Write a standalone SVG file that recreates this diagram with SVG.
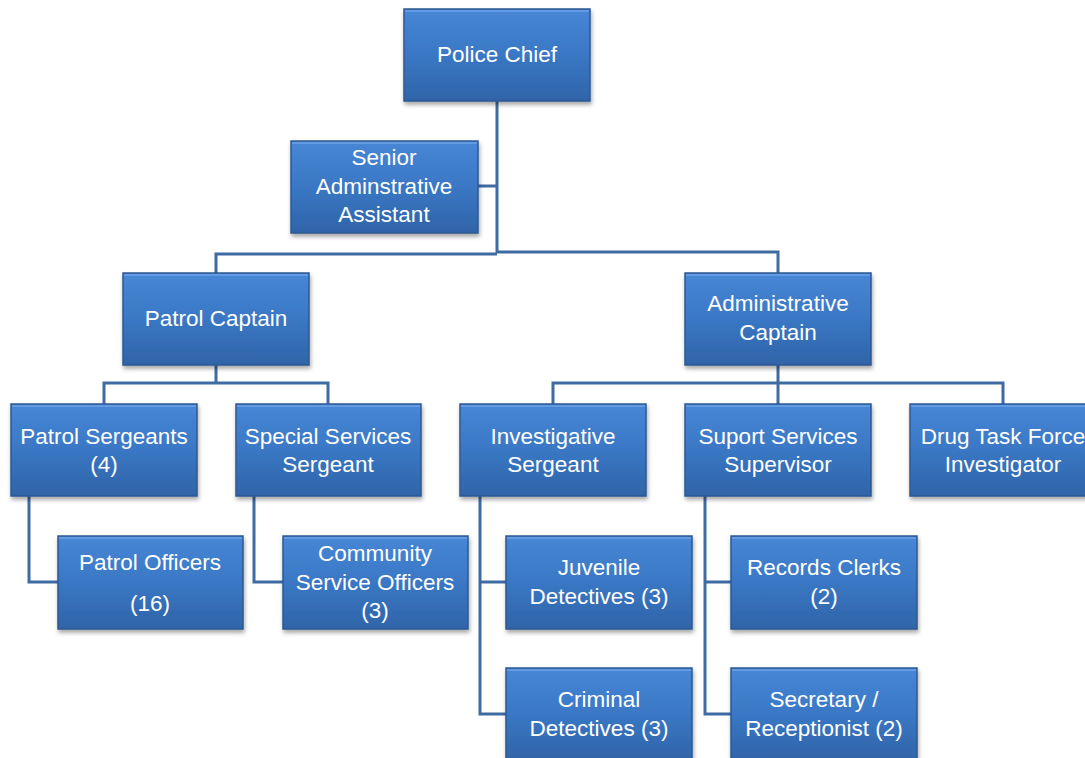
<svg xmlns="http://www.w3.org/2000/svg" width="1085" height="758" viewBox="0 0 1085 758">
<defs>
<linearGradient id="g" x1="0" y1="0" x2="0" y2="1">
<stop offset="0" stop-color="#4787d6"/>
<stop offset="0.5" stop-color="#3a77c4"/>
<stop offset="1" stop-color="#2f64a8"/>
</linearGradient>
<filter id="sh" x="-10%" y="-10%" width="125%" height="130%">
<feDropShadow dx="1" dy="3" stdDeviation="2" flood-color="#000" flood-opacity="0.35"/>
</filter>
</defs>
<style>
.box{fill:url(#g);stroke:#2d5a92;stroke-width:1.5;filter:url(#sh)}
.hl{fill:none;stroke:#6fa3e6;stroke-width:2;stroke-opacity:0.7}
.t{fill:#fff;font-family:"Liberation Sans",Arial,sans-serif;font-size:22.5px;text-anchor:middle}
.c{fill:none;stroke:#3f6ba3;stroke-width:3}
</style>
<g id="connectors">
<path class="c" d="M497 101V253M478 186H497"/>
<path class="c" d="M216 273V254H497M497 252H778V273"/>
<path class="c" d="M216 365V383H104V404M216 383H328V404"/>
<path class="c" d="M778 365V404M553 404V383H1003V404"/>
<path class="c" d="M29 496V582H58"/>
<path class="c" d="M254 496V582H283"/>
<path class="c" d="M480 496V714H506M480 582H506"/>
<path class="c" d="M705 496V714H731M705 582H731"/>
</g>
<g id="police-chief"><rect class="box" x="404" y="9" width="186" height="92"/><path class="hl" d="M405 11H589"/><text class="t" x="497" y="62">Police Chief</text></g>
<g id="senior-admin"><rect class="box" x="291" y="141" width="187" height="92"/><path class="hl" d="M292 143H477"/><text class="t" x="384" y="165">Senior</text><text class="t" x="384" y="194">Adminstrative</text><text class="t" x="384" y="222">Assistant</text></g>
<g id="patrol-captain"><rect class="box" x="123" y="273" width="186" height="92"/><path class="hl" d="M124 275H308"/><text class="t" x="216" y="326">Patrol Captain</text></g>
<g id="admin-captain"><rect class="box" x="685" y="273" width="186" height="92"/><path class="hl" d="M686 275H870"/><text class="t" x="778" y="311">Administrative</text><text class="t" x="778" y="340">Captain</text></g>
<g id="patrol-sergeants"><rect class="box" x="11" y="404" width="186" height="92"/><path class="hl" d="M12 406H196"/><text class="t" x="104" y="444">Patrol Sergeants</text><text class="t" x="104" y="472">(4)</text></g>
<g id="special-services"><rect class="box" x="236" y="404" width="185" height="92"/><path class="hl" d="M237 406H420"/><text class="t" x="328" y="444">Special Services</text><text class="t" x="328" y="472">Sergeant</text></g>
<g id="investigative-sergeant"><rect class="box" x="460" y="404" width="186" height="92"/><path class="hl" d="M461 406H645"/><text class="t" x="553" y="444">Investigative</text><text class="t" x="553" y="472">Sergeant</text></g>
<g id="support-services"><rect class="box" x="685" y="404" width="186" height="92"/><path class="hl" d="M686 406H870"/><text class="t" x="778" y="444">Suport Services</text><text class="t" x="778" y="472">Supervisor</text></g>
<g id="drug-task-force"><rect class="box" x="910" y="404" width="186" height="92"/><path class="hl" d="M911 406H1095"/><text class="t" x="1003" y="444">Drug Task Force</text><text class="t" x="1003" y="472">Investigator</text></g>
<g id="patrol-officers"><rect class="box" x="58" y="536" width="185" height="93"/><path class="hl" d="M59 538H242"/><text class="t" x="150" y="570">Patrol Officers</text><text class="t" x="150" y="611">(16)</text></g>
<g id="community-service"><rect class="box" x="283" y="536" width="185" height="93"/><path class="hl" d="M284 538H467"/><text class="t" x="375" y="561">Community</text><text class="t" x="375" y="590">Service Officers</text><text class="t" x="375" y="618">(3)</text></g>
<g id="juvenile"><rect class="box" x="506" y="536" width="186" height="93"/><path class="hl" d="M507 538H691"/><text class="t" x="599" y="575">Juvenile</text><text class="t" x="599" y="604">Detectives (3)</text></g>
<g id="records"><rect class="box" x="731" y="536" width="186" height="93"/><path class="hl" d="M732 538H916"/><text class="t" x="824" y="575">Records Clerks</text><text class="t" x="824" y="604">(2)</text></g>
<g id="criminal"><rect class="box" x="506" y="668" width="186" height="93"/><path class="hl" d="M507 670H691"/><text class="t" x="599" y="707">Criminal</text><text class="t" x="599" y="736">Detectives (3)</text></g>
<g id="secretary"><rect class="box" x="731" y="668" width="186" height="93"/><path class="hl" d="M732 670H916"/><text class="t" x="824" y="707">Secretary /</text><text class="t" x="824" y="736">Receptionist (2)</text></g>
</svg>
